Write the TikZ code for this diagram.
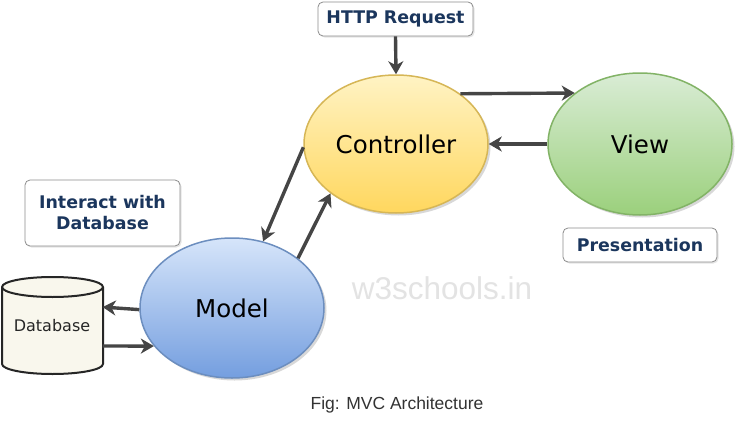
\documentclass[tikz,border=0pt]{standalone}
\usepackage{fontspec}
\setmainfont{DejaVu Sans}
\newfontfamily\arialf{Liberation Sans}
\usetikzlibrary{arrows.meta,shapes.geometric,shadows}
\definecolor{navy}{HTML}{1B365D}
\definecolor{arrowgray}{HTML}{454545}
\definecolor{ctrlborder}{HTML}{D6B656}
\definecolor{viewborder}{HTML}{82B366}
\definecolor{modelborder}{HTML}{6C8EBF}
\definecolor{dbfill}{HTML}{F9F7ED}
\definecolor{ctrltop}{HTML}{FFF3C4}
\definecolor{ctrlbot}{HTML}{FFD75E}
\definecolor{viewtop}{HTML}{D9ECD5}
\definecolor{viewbot}{HTML}{9BD07C}
\definecolor{modeltop}{HTML}{D6E5FA}
\definecolor{modelbot}{HTML}{749EDF}
\tikzset{
  mvcnode/.style={ellipse, inner sep=0pt, minimum width=184pt, minimum height=138pt,
    line width=1.5pt, font=\fontsize{24.5}{29}\selectfont,
    drop shadow={shadow xshift=2.5pt, shadow yshift=-2.5pt, opacity=0.3}},
  labelbox/.style={draw=black!45, fill=white, rounded corners=5pt, line width=0.8pt,
    inner sep=0pt, text=navy, font=\bfseries\fontsize{17.4}{21}\selectfont, align=center,
    drop shadow={shadow xshift=1.5pt, shadow yshift=-1.5pt, opacity=0.2}},
  arr/.style={draw=arrowgray, line width=3.4pt, -{Stealth[length=13pt,width=15pt,inset=4pt]}},
}
\begin{document}
\begin{tikzpicture}[x=1pt,y=-1pt]
\useasboundingbox[fill=white] (0,0) rectangle (736,423);

% watermark and caption
\node[text=black!11, font=\arialf\fontsize{31.5}{36}\selectfont] (wm) at (442,288) {w3schools.in};
\node[text=black!80, font=\arialf\fontsize{17.5}{21}\selectfont] (cap) at (397,405) {Fig: MVC Architecture};

% main nodes
\node[mvcnode, draw=ctrlborder, top color=ctrltop, bottom color=ctrlbot] (ctrl) at (396,144) {Controller};
\node[mvcnode, draw=viewborder, top color=viewtop, bottom color=viewbot,
      minimum height=142pt] (view) at (640,144) {View};
\node[mvcnode, draw=modelborder, top color=modeltop, bottom color=modelbot,
      minimum height=140pt] (model) at (232,308) {Model};

% label boxes
\node[labelbox, minimum width=155pt, minimum height=34pt] (http) at (395.5,19) {HTTP Request};
\node[labelbox, minimum width=155pt, minimum height=66pt] (inter) at (102.5,213) {Interact with\\Database};
\node[labelbox, minimum width=154pt, minimum height=34pt] (pres) at (640,245) {Presentation};

% database cylinder
\draw[fill=dbfill, line width=2pt, draw=black!85]
  (2,287) -- (2,364) arc[start angle=180, end angle=0, x radius=50.5, y radius=10]
  -- (103,287) arc[start angle=0, end angle=-180, x radius=50.5, y radius=10] -- cycle;
\draw[line width=2pt, draw=black!85] (2,287) arc[start angle=180, end angle=0, x radius=50.5, y radius=10];
\node[minimum width=101pt, minimum height=97pt, inner sep=0pt,
      font=\fontsize{16}{19}\selectfont, text=black!85] (db) at (52,325.5) {Database};

% connectors
\draw[arr] (http.south) -- (ctrl.north);
\draw[arr] (ctrl.38) -- (view.142);
\draw[arr] (view.west) -- (ctrl.east);
\draw[arr] (ctrl.182) -- (model.65);
\draw[arr] (model.37) -- (ctrl.217);
\draw[arr] (model.181) -- (db.20);
\draw[arr] (db.-22) -- (model.206);
\end{tikzpicture}
\end{document}
